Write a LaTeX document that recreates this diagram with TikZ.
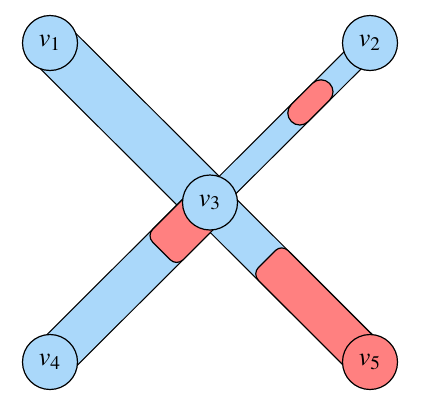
\documentclass[tikz,border=0pt]{standalone}
\usepackage{mathptmx}
\definecolor{vblue}{RGB}{170,216,250}
\definecolor{vred}{RGB}{255,128,128}
\usetikzlibrary{backgrounds,calc}

\begin{document}
\begin{tikzpicture}[
  x=0.5pt, y=-0.5pt,
  vtx/.style={circle, draw=black, line width=0.6pt, fill=vblue, minimum size=27.5pt, inner sep=0pt, font=\fontsize{13}{15}\selectfont},
  bar/.style={draw=black, line width=0.6pt, double=vblue},
  seg/.style={draw=black, line width=0.6pt, fill=vred, inner sep=0pt}
]
  \useasboundingbox (0,0) rectangle (448,402);

  %% Vertices
  \node[vtx] (v1) at (50,43) {$v_1$};
  \node[vtx] (v2) at (370,43) {$v_2$};
  \node[vtx] (v3) at (210,202.5) {$v_3$};
  \node[vtx] (v4) at (50,362) {$v_4$};
  \node[vtx, fill=vred] (v5) at (370,362) {$v_5$};

  \begin{scope}[on background layer]
    %% Edges
    \draw[bar, double distance=24.4pt] (v1.center) -- (v3.center);
    \draw[bar, double distance=11.4pt] (v3.center) -- (v2.center);
    \draw[bar, double distance=20.9pt] (v3.center) -- (v4.center);
    \draw[bar, double distance=20.4pt] (v3.center) -- (v5.center);

    %% Red parts of the edges
    \node[seg, rotate=45, minimum width=27pt, minimum height=12pt, rounded corners=6pt] (r2) at ($(v3)!0.6275!(v2)$) {};
    \node[seg, rotate=45, minimum width=39.25pt, minimum height=21.5pt, rounded corners=4.5pt] (r4) at ($(v3)!0.1297!(v4)$) {};
    \node[seg, rotate=-45, minimum width=77.5pt, minimum height=21pt, rounded corners=4.5pt] (r5) at ($(v3)!0.698!(v5)$) {};
  \end{scope}
\end{tikzpicture}
\end{document}
